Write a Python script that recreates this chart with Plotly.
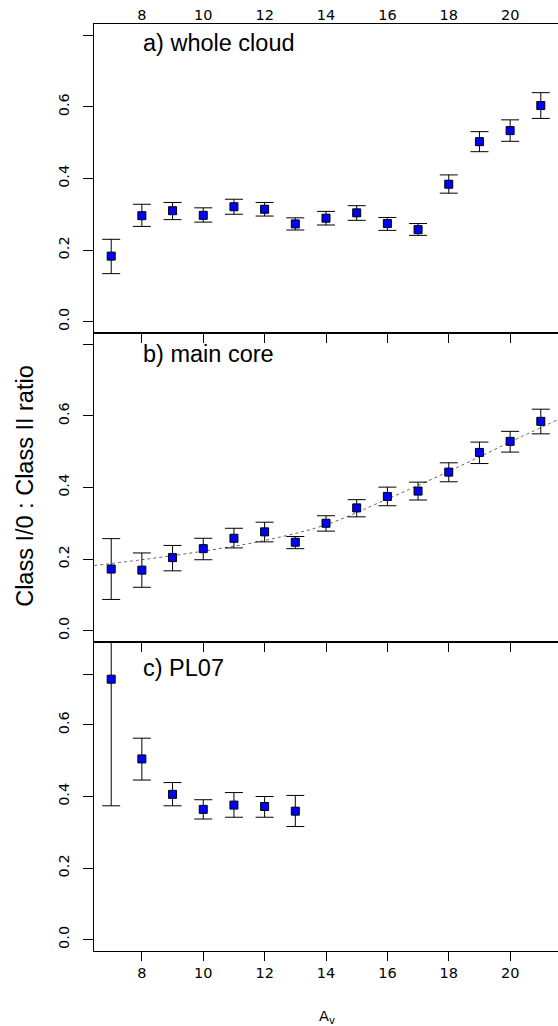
import plotly.graph_objects as go

# ---------------- data ----------------
av = [7, 8, 9, 10, 11, 12, 13, 14, 15, 16, 17, 18, 19, 20, 21]

a_val = [0.183, 0.296, 0.310, 0.297, 0.321, 0.314, 0.273, 0.289, 0.304, 0.274, 0.257, 0.384, 0.503, 0.534, 0.604]
a_hi  = [0.230, 0.328, 0.333, 0.318, 0.342, 0.333, 0.290, 0.308, 0.324, 0.291, 0.274, 0.410, 0.531, 0.564, 0.640]
a_lo  = [0.134, 0.266, 0.285, 0.278, 0.300, 0.295, 0.256, 0.270, 0.283, 0.255, 0.241, 0.359, 0.475, 0.504, 0.568]

b_val = [0.172, 0.169, 0.204, 0.229, 0.258, 0.276, 0.247, 0.300, 0.343, 0.375, 0.390, 0.443, 0.498, 0.529, 0.585]
b_hi  = [0.257, 0.217, 0.238, 0.258, 0.286, 0.303, 0.263, 0.321, 0.366, 0.401, 0.415, 0.469, 0.527, 0.557, 0.619]
b_lo  = [0.087, 0.121, 0.167, 0.198, 0.231, 0.248, 0.229, 0.278, 0.318, 0.349, 0.365, 0.416, 0.467, 0.499, 0.550]

fit_x = [6.44, 8, 10, 12, 14, 16, 18, 20, 21.56]
fit_y = [0.182, 0.198, 0.222, 0.252, 0.296, 0.368, 0.445, 0.527, 0.590]

c_av  = [7, 8, 9, 10, 11, 12, 13]
c_val = [0.728, 0.505, 0.406, 0.364, 0.376, 0.372, 0.359]
c_hi  = [1.082, 0.563, 0.439, 0.391, 0.411, 0.400, 0.403]
c_lo  = [0.374, 0.446, 0.374, 0.337, 0.342, 0.342, 0.316]

x_ticks = [8, 10, 12, 14, 16, 18, 20]
y_ticks = [0.0, 0.2, 0.4, 0.6, 0.8]
y_tick_text = ["0.0", "0.2", "0.4", "0.6", ""]
c_y_ticks = [0.0, 0.2, 0.4, 0.6, 0.74]
c_y_tick_text = ["0.0", "0.2", "0.4", "0.6", ""]

panel_titles = ["a) whole cloud", "b) main core", "c) PL07"]
y_title = "Class I/0 : Class II ratio"
x_title = "A<sub>v</sub>"

X_RANGE = [6.44, 21.56]
Y_RANGE = [-0.032, 0.832]

TICK_FONT = dict(family="DejaVu Sans", size=14.5, color="black")
TEXT_FONT = "Liberation Sans, Arial, sans-serif"

fig = go.Figure()


def add_points(xs, ys, hi, lo, xa, ya):
    fig.add_trace(go.Scatter(
        x=xs, y=ys, xaxis=xa, yaxis=ya, mode="markers",
        marker=dict(symbol="square", size=8, color="#0000ff",
                    line=dict(color="black", width=1)),
        error_y=dict(type="data", symmetric=False,
                     array=[h - v for h, v in zip(hi, ys)],
                     arrayminus=[v - l for v, l in zip(ys, lo)],
                     color="black", thickness=1, width=9),
        showlegend=False, hoverinfo="skip"))


add_points(av, a_val, a_hi, a_lo, "x", "y")
fig.add_trace(go.Scatter(x=fit_x, y=fit_y, xaxis="x2", yaxis="y2", mode="lines",
                         line=dict(color="#666666", width=1, dash="dot", shape="spline"),
                         showlegend=False, hoverinfo="skip"))
add_points(av, b_val, b_hi, b_lo, "x2", "y2")
add_points(c_av, c_val, c_hi, c_lo, "x3", "y3")
# empty traces so the overlay axes are drawn
fig.add_trace(go.Scatter(x=[], y=[], xaxis="x4", yaxis="y3", showlegend=False))
fig.add_trace(go.Scatter(x=[], y=[], xaxis="x", yaxis="y4", showlegend=False))
fig.add_trace(go.Scatter(x=[], y=[], xaxis="x2", yaxis="y5", showlegend=False))
fig.add_trace(go.Scatter(x=[], y=[], xaxis="x3", yaxis="y6", showlegend=False))

common_x = dict(range=X_RANGE, tickvals=x_ticks, showline=True, linecolor="black",
                linewidth=1, mirror=True, showgrid=False, zeroline=False,
                tickcolor="black", tickwidth=1, tickfont=TICK_FONT, automargin=False)
# axes carrying the black tick marks (no labels)
common_y = dict(range=Y_RANGE, showline=True, linecolor="black", linewidth=1,
                showgrid=False, zeroline=False, ticks="outside", ticklen=10,
                tickcolor="black", tickwidth=1, showticklabels=False,
                automargin=False)
# overlay axes carrying the rotated labels, pushed away from the axis
label_y = dict(range=Y_RANGE, showline=False, showgrid=False, zeroline=False,
               ticks="outside", ticklen=18, tickcolor="rgba(0,0,0,0)",
               tickangle=-90, tickfont=TICK_FONT, side="left", automargin=False)

fig.update_layout(
    width=558, height=1026,
    margin=dict(l=94, r=0, t=24, b=75),
    plot_bgcolor="white", paper_bgcolor="white",
    xaxis=dict(common_x, side="top", ticks="", ticklabelstandoff=-3,
               showticklabels=True, anchor="y", domain=[0, 1]),
    yaxis=dict(common_y, domain=[2 / 3, 1], tickvals=y_ticks, anchor="x"),
    xaxis2=dict(common_x, side="top", ticks="inside", ticklen=10,
                showticklabels=False, anchor="y2"),
    yaxis2=dict(common_y, domain=[1 / 3, 2 / 3], tickvals=y_ticks, anchor="x2"),
    xaxis3=dict(common_x, side="bottom", ticks="outside", ticklen=9,
                showticklabels=True, anchor="y3"),
    yaxis3=dict(common_y, domain=[0, 1 / 3], tickvals=c_y_ticks, anchor="x3"),
    xaxis4=dict(range=X_RANGE, tickvals=x_ticks, overlaying="x3", side="top",
                anchor="y3", ticks="inside", ticklen=10, tickcolor="black",
                tickwidth=1, showticklabels=False, showline=False, showgrid=False,
                zeroline=False, automargin=False),
    yaxis4=dict(label_y, overlaying="y", anchor="x", tickvals=y_ticks,
                ticktext=y_tick_text),
    yaxis5=dict(label_y, overlaying="y2", anchor="x2", tickvals=y_ticks,
                ticktext=y_tick_text),
    yaxis6=dict(label_y, overlaying="y3", anchor="x3", tickvals=c_y_ticks,
                ticktext=c_y_tick_text),
)

title_y = [0.780, 0.772, 0.758]
for i, (t, ty) in enumerate(zip(panel_titles, title_y)):
    suffix = "" if i == 0 else str(i + 1)
    fig.add_annotation(text=t, xref="x" + suffix, yref="y" + suffix, x=7.98, y=ty,
                       xanchor="left", yanchor="middle", showarrow=False,
                       font=dict(family=TEXT_FONT, size=23.5, color="black"))

fig.add_annotation(text=y_title, xref="paper", yref="paper", x=-0.1487, y=0.5018,
                   xanchor="center", yanchor="middle", textangle=-90, showarrow=False,
                   font=dict(family=TEXT_FONT, size=23.5, color="black"))
fig.add_annotation(text=x_title, xref="paper", yref="paper", x=0.5015, y=-0.071,
                   xanchor="center", yanchor="middle", showarrow=False,
                   font=dict(family="DejaVu Sans", size=14.5, color="black"))

fig.write_html("out.html",
               config={"displayModeBar": False},
               post_script="document.body.style.margin='0';"
                           "document.documentElement.style.overflow='hidden';")
